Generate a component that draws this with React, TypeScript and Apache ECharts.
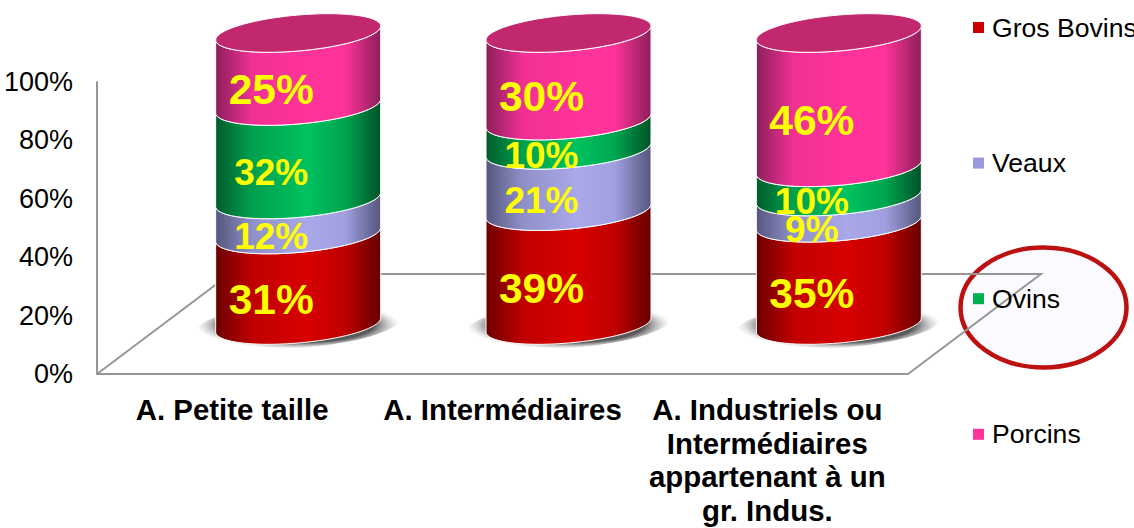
import React, { useEffect, useRef } from "react";
import * as echarts from "echarts";

const categories = [
  "A. Petite taille",
  "A. Intermédiaires",
  "A. Industriels ou\nIntermédiaires\nappartenant à un\ngr. Indus.",
];
const seriesNames = ["Gros Bovins", "Veaux", "Ovins", "Porcins"];
const grosBovins = [31, 39, 35];
const veaux = [12, 21, 9];
const ovins = [32, 10, 10];
const porcins = [25, 30, 46];
const seriesValues = [grosBovins, veaux, ovins, porcins];
const yTicks = { min: 0, max: 100, interval: 20 };

// styling
const legendColors = ["#cc0000", "#9999dd", "#00b050", "#ff3399"];
const sideStops = [
  ["#6a0000", "#c00000", "#d80000", "#c00000", "#660000"],
  ["#56567f", "#8f8fc8", "#a9a9ea", "#a0a0e0", "#56567f"],
  ["#005c2c", "#00a04e", "#00c25e", "#00a650", "#005228"],
  ["#8c1f5a", "#f03095", "#ff3399", "#ff3399", "#8c1f5a"],
];
const labelSizes = [
  [42.5, 42.5, 42.5],
  [37, 37, 37],
  [37, 37, 37],
  [42.5, 42.5, 42.5],
];
const lineColor = "#969696";
const RX = 82.5;
const RY = 18;
const SHEAR = 7;
const LIFT = 49;
const SHIFT_X = 66;

function arc(cx: number, cy: number, rx: number, ry: number, k: number, from: number, to: number, n = 40) {
  const pts: number[][] = [];
  for (let i = 0; i <= n; i++) {
    const t = from + ((to - from) * i) / n;
    pts.push([cx + rx * Math.cos(t), cy + ry * Math.sin(t) - k * Math.cos(t)]);
  }
  return pts;
}

function makeSeries(si: number) {
  const data = categories.map((_, c) => {
    let start = 0;
    for (let s = 0; s < si; s++) start += seriesValues[s][c];
    return [c, start, start + seriesValues[si][c], seriesValues[si][c]];
  });
  const stops = sideStops[si];
  return {
    type: "custom",
    name: seriesNames[si],
    itemStyle: { color: legendColors[si] },
    encode: { x: 0, y: [1, 2] },
    data,
    renderItem: (_p: any, api: any) => {
      const c = api.value(0);
      const bottom = api.coord([c, api.value(1)]);
      const top = api.coord([c, api.value(2)]);
      const cx = bottom[0] + SHIFT_X;
      const yb = bottom[1] - LIFT;
      const yt = top[1] - LIFT;
      const children: any[] = [];
      if (si === 0) {
        children.push({
          type: "polygon",
          z2: 1,
          shape: { points: arc(cx, yb, RX + 20, RY + 5, SHEAR, 0, Math.PI * 2, 80) },
          style: {
            fill: {
              type: "radial",
              x: 0.5,
              y: 0.5,
              r: 0.5,
              colorStops: [
                { offset: 0, color: "rgba(80,80,80,1)" },
                { offset: 0.74, color: "rgba(90,90,90,1)" },
                { offset: 1, color: "rgba(190,190,190,0)" },
              ],
            },
          },
        });
      }
      const frontTop = arc(cx, yt, RX, RY, SHEAR, Math.PI, 0);
      const frontBottom = arc(cx, yb, RX, RY, SHEAR, 0, Math.PI);
      children.push({
        type: "polygon",
        z2: 2 + si,
        shape: { points: frontTop.concat(frontBottom) },
        style: {
          fill: {
            type: "linear",
            x: 0,
            y: 0,
            x2: 1,
            y2: 0,
            colorStops: [
              { offset: 0, color: stops[0] },
              { offset: 0.22, color: stops[1] },
              { offset: 0.55, color: stops[2] },
              { offset: 0.78, color: stops[3] },
              { offset: 1, color: stops[4] },
            ],
          },
          stroke: "#ffffff",
          lineWidth: 1,
        },
      });
      if (si === seriesNames.length - 1) {
        children.push({
          type: "polygon",
          z2: 10,
          shape: { points: arc(cx, yt, RX, RY, SHEAR, 0, Math.PI * 2, 80) },
          style: { fill: "#c1286e", stroke: "#ffffff", lineWidth: 1 },
        });
      }
      const fontSize = labelSizes[si][c];
      children.push({
        type: "text",
        z2: 100,
        x: cx - 27,
        y: (yb + yt) / 2 + 20,
        style: {
          text: `${api.value(3)}%`,
          fill: "#ffff00",
          font: `bold ${fontSize}px "Liberation Sans", Arial, sans-serif`,
          textAlign: "center",
          textVerticalAlign: "middle",
        },
      });
      return { type: "group", children };
    },
  };
}

export default function App() {
  const ref = useRef<HTMLDivElement>(null);
  useEffect(() => {
    const chart = echarts.init(ref.current!, undefined, { renderer: "svg" });
    const font = '"Liberation Sans", Arial, sans-serif';
    chart.setOption({
      animation: false,
      backgroundColor: "#ffffff",
      grid: { left: 97, right: 226, top: 82, bottom: 154 },
      xAxis: {
        type: "category",
        data: categories,
        axisLine: { lineStyle: { color: lineColor, width: 2 } },
        axisTick: { show: false },
        axisLabel: {
          interval: 0,
          margin: 19,
          color: "#000000",
          fontFamily: font,
          fontWeight: "bold",
          fontSize: 29.4,
          lineHeight: 33.5,
          formatter: (v: string, i: number) =>
            i === 2 ? v.split("\n").map((line) => `{shift|${line}}`).join("\n") : v,
          rich: {
            shift: {
              color: "#000000",
              fontFamily: font,
              fontWeight: "bold",
              fontSize: 29.4,
              lineHeight: 33.5,
              padding: [0, 11, 0, 0],
            },
          },
        },
      },
      yAxis: {
        type: "value",
        min: yTicks.min,
        max: yTicks.max,
        interval: yTicks.interval,
        axisLine: { show: true, lineStyle: { color: lineColor, width: 2 } },
        axisTick: { show: false },
        splitLine: { show: false },
        axisLabel: {
          margin: 24,
          color: "#000000",
          fontFamily: font,
          fontSize: 27,
          formatter: "{value}%",
        },
      },
      legend: {
        orient: "vertical",
        left: 968,
        top: 9,
        itemGap: 108.6,
        itemWidth: 11,
        itemHeight: 11,
        icon: "rect",
        data: seriesNames,
        selectedMode: false,
        textStyle: { color: "#000000", fontFamily: font, fontSize: 26.6, padding: [0, 0, 0, 3] },
      },
      graphic: [
        {
          type: "ellipse",
          z: 0,
          shape: { cx: 1043.5, cy: 307.5, rx: 83, ry: 60 },
          style: { fill: "#fafaff", stroke: "#bb1111", lineWidth: 4.5 },
        },
        {
          type: "polyline",
          z: 1,
          shape: { points: [[97, 374], [230, 274], [1041, 274], [908, 374]] },
          style: { fill: "none", stroke: lineColor, lineWidth: 2 },
        },
      ],
      series: seriesNames.map((_, i) => makeSeries(i)),
    });
    return () => chart.dispose();
  }, []);
  return <div ref={ref} style={{ position: "absolute", left: 0, top: 0, width: 1134, height: 528 }} />;
}
